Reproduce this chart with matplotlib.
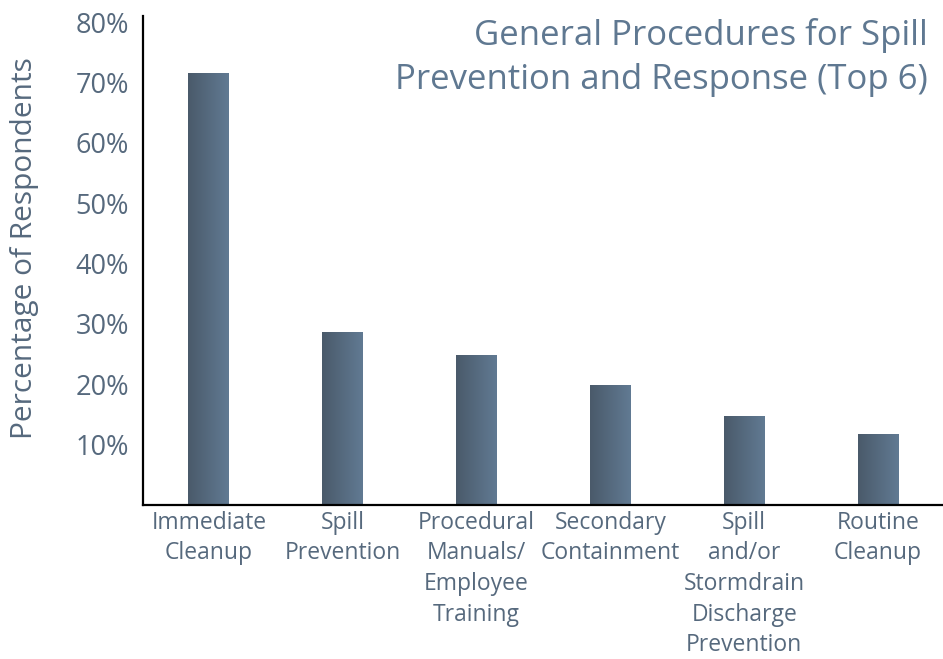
import numpy as np
import matplotlib
matplotlib.use("Agg")
import matplotlib.pyplot as plt
from matplotlib.colors import LinearSegmentedColormap

plt.rcParams['font.family'] = ['Open Sans', 'DejaVu Sans']

# data
categories = ["Immediate\nCleanup", "Spill\nPrevention", "Procedural\nManuals/\nEmployee\nTraining",
              "Secondary\nContainment", "Spill\nand/or\nStormdrain\nDischarge\nPrevention",
              "Routine\nCleanup"]
values = [71.5, 28.7, 24.8, 19.9, 14.8, 11.8]
yticks = [10, 20, 30, 40, 50, 60, 70, 80]
ytick_labels = ["10%", "20%", "30%", "40%", "50%", "60%", "70%", "80%"]

text_col = "#56697d"
title_col = "#5f7891"

fig = plt.figure(figsize=(9.43, 6.59), dpi=100)
ax = fig.add_axes([0.1516, 0.2337, 0.8484, 0.7420])

x = np.arange(len(categories))
bars = ax.bar(x, values, width=0.306, color="none", edgecolor="none")

# horizontal gradient inside each bar
cmap = LinearSegmentedColormap.from_list("g", ["#4a5a6a", "#617a93"])
grad = np.linspace(0, 1, 64).reshape(1, -1)
for b in bars:
    x0, w, h = b.get_x(), b.get_width(), b.get_height()
    im = ax.imshow(grad, cmap=cmap, aspect="auto", extent=[x0, x0 + w, 0, h],
                   zorder=2, interpolation="bilinear")
    im.set_clip_path(b)

ax.set_xlim(-0.4925, 5.485)
ax.set_ylim(0, 81)

ax.set_yticks(yticks)
ax.set_yticklabels(ytick_labels, fontsize=19.5, color=text_col)
ax.set_xticks(x)
ax.set_xticklabels(categories, fontsize=16.5, color=text_col, linespacing=1.37)
ax.tick_params(axis="both", length=0)
ax.tick_params(axis="y", pad=10)
ax.tick_params(axis="x", pad=4)

for s in ["top", "right"]:
    ax.spines[s].set_visible(False)
for s in ["left", "bottom"]:
    ax.spines[s].set_linewidth(1.6)
    ax.spines[s].set_color("black")

fig.text(0.026, 0.624, "Percentage of Respondents", rotation=90, ha="center", va="center",
         fontsize=21.5, color=text_col)
fig.text(0.984, 0.913, "General Procedures for Spill\nPrevention and Response (Top 6)",
         ha="right", va="center", fontsize=25, color=title_col, linespacing=1.36)

fig.savefig("out.png", dpi=100)
